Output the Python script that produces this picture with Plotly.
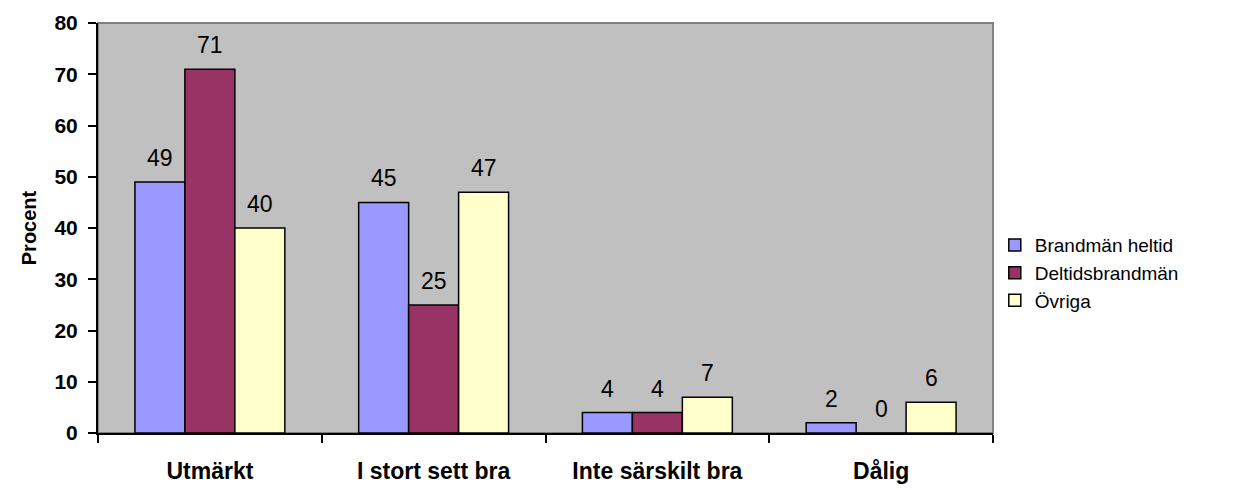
import plotly.graph_objects as go

categories = ["Utmärkt", "I stort sett bra", "Inte särskilt bra", "Dålig"]
series_names = ["Brandmän heltid", "Deltidsbrandmän", "Övriga"]
heltid = [49, 45, 4, 2]
deltid = [71, 25, 4, 0]
ovriga = [40, 47, 7, 6]
y_ticks = [0, 10, 20, 30, 40, 50, 60, 70, 80]

colors = ["#9999FF", "#993366", "#FFFFCC"]
all_values = [heltid, deltid, ovriga]
BARGAP = 0.33
FONT = "Liberation Sans, Arial"

fig = go.Figure()
for name, vals, col in zip(series_names, all_values, colors):
    fig.add_trace(go.Bar(
        x=categories, y=vals, name=name,
        marker=dict(color=col, line=dict(color="black", width=1.5)),
    ))

# data labels
bw = (1 - BARGAP) / len(all_values)
for i, vals in enumerate(all_values):
    off = (i - (len(all_values) - 1) / 2) * bw
    for j, v in enumerate(vals):
        fig.add_annotation(
            x=j + off, y=v, xref="x", yref="y", text=str(v),
            showarrow=False, yanchor="bottom", yshift=9,
            font=dict(family=FONT, size=23, color="black"),
        )

# plot area frame (gray top/right)
fig.add_shape(type="rect", xref="paper", yref="paper", x0=0, y0=0, x1=1, y1=1,
              line=dict(color="#808080", width=2), layer="below")

# page body has an 8px default margin, so the figure is sized to fit
fig.update_layout(
    width=1237, height=482,
    margin=dict(l=90, r=252, t=15, b=57, autoexpand=False),
    paper_bgcolor="white", plot_bgcolor="#C0C0C0",
    barmode="group", bargap=BARGAP, bargroupgap=0,
    font=dict(family=FONT, color="black"),
    showlegend=True,
    legend=dict(x=1.002, y=0.39, xanchor="left", yanchor="middle",
                font=dict(size=19), tracegroupgap=0, itemwidth=30,
                bgcolor="rgba(0,0,0,0)"),
)
fig.update_xaxes(
    automargin=False,
    showline=True, linecolor="black", linewidth=2,
    ticks="outside", tickson="boundaries", ticklen=8, tickcolor="black", tickwidth=2,
    tickfont=dict(size=23, family=FONT, weight="bold"),
    ticklabelstandoff=16,
    showgrid=False,
)
fig.update_yaxes(
    automargin=False,
    range=[0, 80], tickvals=y_ticks,
    showline=True, linecolor="black", linewidth=2,
    ticks="outside", ticklen=8, tickcolor="black", tickwidth=2,
    tickfont=dict(size=21, family=FONT, weight="bold"),
    ticklabelstandoff=6,
    showgrid=False, zeroline=False,
    title=dict(text="Procent", font=dict(size=20, weight="bold"), standoff=12),
)

fig.write_html("out.html")
